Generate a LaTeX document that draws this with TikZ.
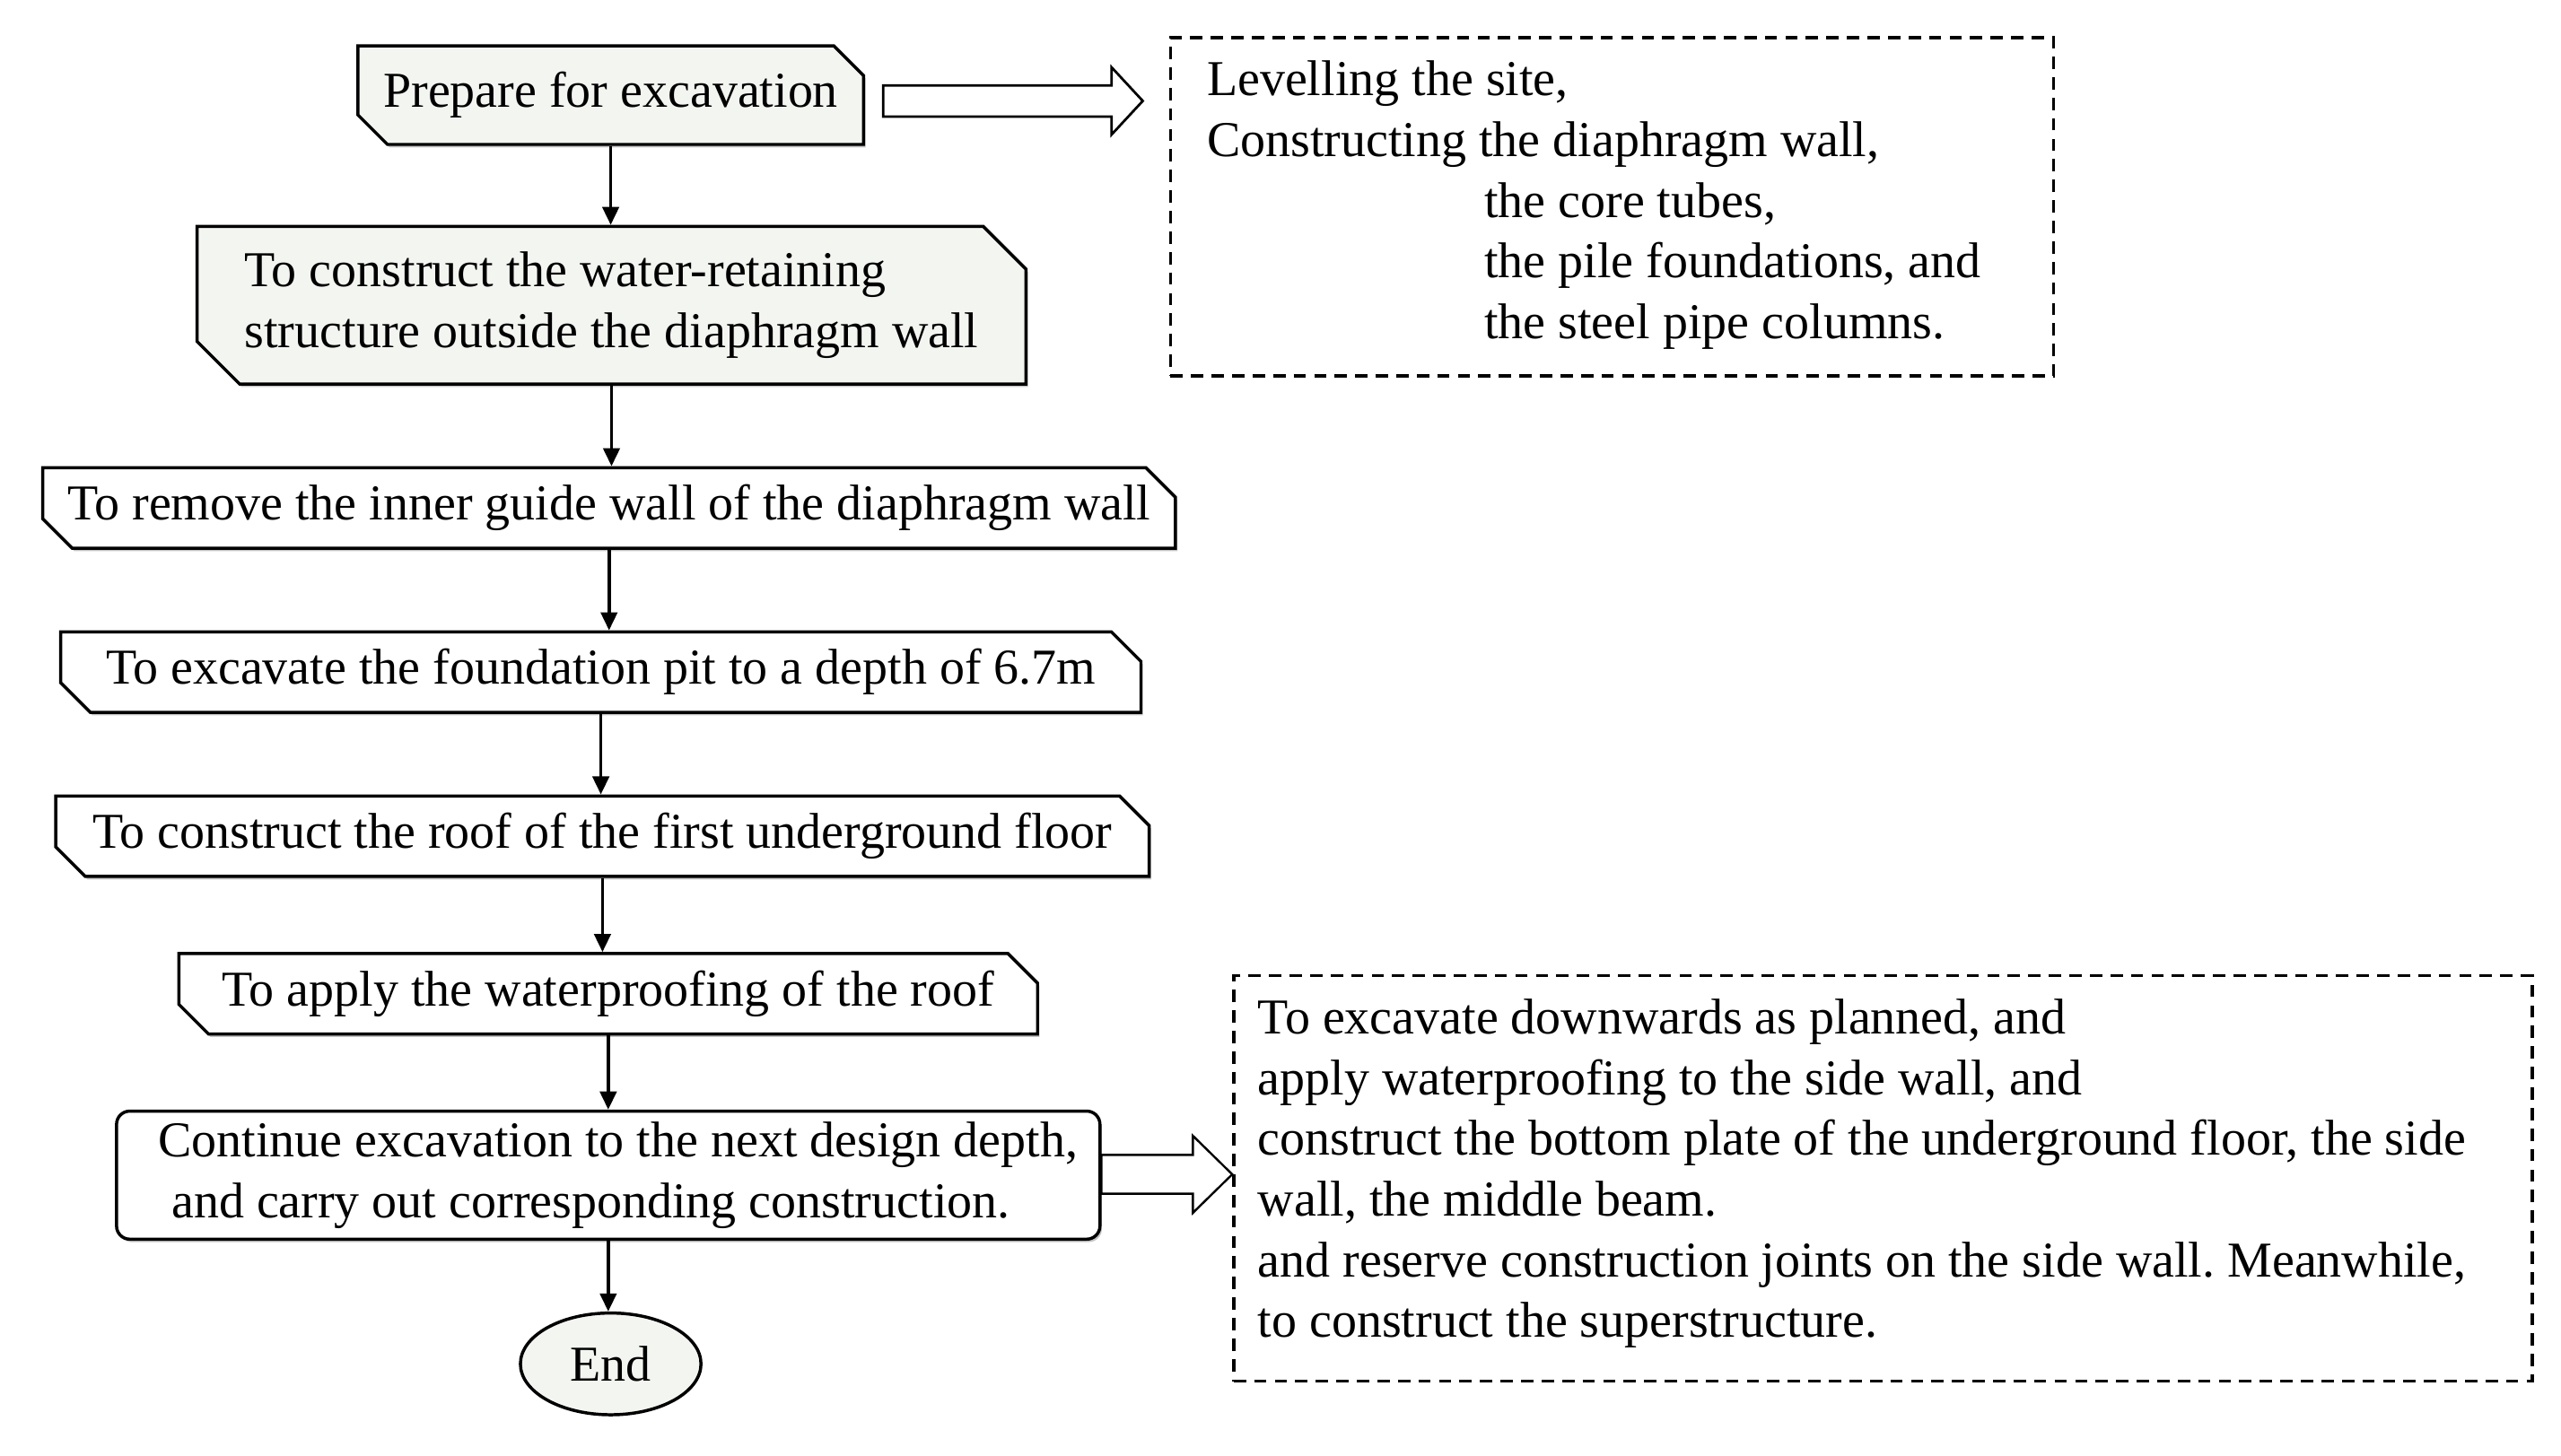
\documentclass[tikz,border=0pt]{standalone}
\usepackage{fontspec}
\setmainfont{Liberation Serif}
\usetikzlibrary{shapes.misc,shapes.geometric,arrows.meta,calc,shadows}
\definecolor{boxgrey}{RGB}{243,245,241}
\frenchspacing
\newcommand\blkarrow[6]{% style, start, tip, shaft half-width, head half-width, head length
  \draw[#1] ($(#2)+(0,-#4)$) -- ($(#3)+(-#6,-#4)$) -- ($(#3)+(-#6,-#5)$) -- (#3)
    -- ($(#3)+(-#6,#5)$) -- ($(#3)+(-#6,#4)$) -- ($(#2)+(0,#4)$) -- cycle;}
\begin{document}
\begin{tikzpicture}[x=1pt,y=-1pt,
  every node/.style={font=\fontsize{30.6}{37}\selectfont},
  boxline/.style={draw=black, line width=1.9pt, inner sep=0pt},
  shad/.style={drop shadow={shadow xshift=1.2pt,shadow yshift=-1.8pt,fill=black!45}},
  chbox/.style={boxline, shad, chamfered rectangle,
    chamfered rectangle corners={north east,south west},
    chamfered rectangle xsep=9pt, chamfered rectangle ysep=9pt, fill=white},
  rbox/.style={boxline, shad, rectangle, rounded corners=8pt, fill=white},
  greyfill/.style={fill=boxgrey},
  notebox/.style={draw=black, line width=1.8pt, dash pattern=on 7.5pt off 5pt, rectangle, inner sep=0pt},
  notetext/.style={anchor=north west, align=left, inner sep=0pt},
  conn/.style={line width=2pt, -{Triangle[length=11pt,width=10pt]}},
  blockline/.style={line width=1.5pt, line join=miter, fill=white},
  blockthin/.style={line width=1.3pt, line join=miter, fill=white}
]
\useasboundingbox (0,0) rectangle (1560,886.6);

% main column
\node[chbox, greyfill, minimum width=308pt, minimum height=60pt] (prep) at (372,58) {Prepare for excavation};
\node[chbox, greyfill, minimum width=505pt, minimum height=96pt, align=left,
  chamfered rectangle xsep=13pt, chamfered rectangle ysep=13pt] (water) at (372.5,186)
  {To construct the water-retaining\\structure outside the diaphragm wall};
\node[chbox, minimum width=690pt, minimum height=49pt] (remove) at (371,309.5)
  {To remove the inner guide wall of the diaphragm wall};
\node[chbox, minimum width=658pt, minimum height=49pt] (excav) at (366,409.5)
  {To excavate the foundation pit to a depth of 6.7m};
\node[chbox, minimum width=666pt, minimum height=49pt] (roof) at (367,509.5)
  {To construct the roof of the first underground floor};
\node[chbox, minimum width=523pt, minimum height=49pt] (proof) at (370.5,605.5)
  {To apply the waterproofing of the roof};
\node[rbox, minimum width=599pt, minimum height=78pt, align=left] (cont) at (370.5,716)
  {\hspace*{12pt}Continue excavation to the next design depth,\\\hspace*{20pt}and carry out corresponding construction.};
\node[ellipse, boxline, greyfill, minimum width=110pt, minimum height=62pt] (end) at (372,831) {End};

% notes
\node[notebox, minimum width=538pt, minimum height=206pt] (note1) at (982,126) {};
\node[notetext] (note1t) at (735,37)
  {Levelling the site,\\Constructing the diaphragm wall,\\\hspace*{169pt}the core tubes,\\\hspace*{169pt}the pile foundations, and\\\hspace*{169pt}the steel pipe columns.};
\node[notebox, minimum width=791pt, minimum height=247pt] (note2) at (1147,718) {};
\node[notetext] (note2t) at (766,608.5)
  {To excavate downwards as planned, and\\apply waterproofing to the side wall, and\\construct the bottom plate of the underground floor, the side\\wall, the middle beam.\\and reserve construction joints on the side wall. Meanwhile,\\to construct the superstructure.};

% connectors
\draw[conn] (prep.south) -- (prep.south |- water.north);
\draw[conn] (water.south) -- (water.south |- remove.north);
\draw[conn] (remove.south) -- (remove.south |- excav.north);
\draw[conn] (excav.south) -- (excav.south |- roof.north);
\draw[conn] (roof.south) -- (roof.south |- proof.north);
\draw[conn] (proof.south) -- (proof.south |- cont.north);
\draw[conn] (cont.south) -- (cont.south |- end.north);

% block arrows
\coordinate (b1s) at ($(prep.east)+(11,3.5)$);
\coordinate (b1e) at ($(note1.west |- b1s)+(-16,0)$);
\blkarrow{blockline}{b1s}{b1e}{9.5}{20.5}{19}
\coordinate (b2s) at ($(cont.east)+(0,-0.5)$);
\coordinate (b2e) at ($(note2.west |- b2s)+(0,0)$);
\blkarrow{blockthin}{b2s}{b2e}{11.8}{23.5}{24}
\end{tikzpicture}
\end{document}
